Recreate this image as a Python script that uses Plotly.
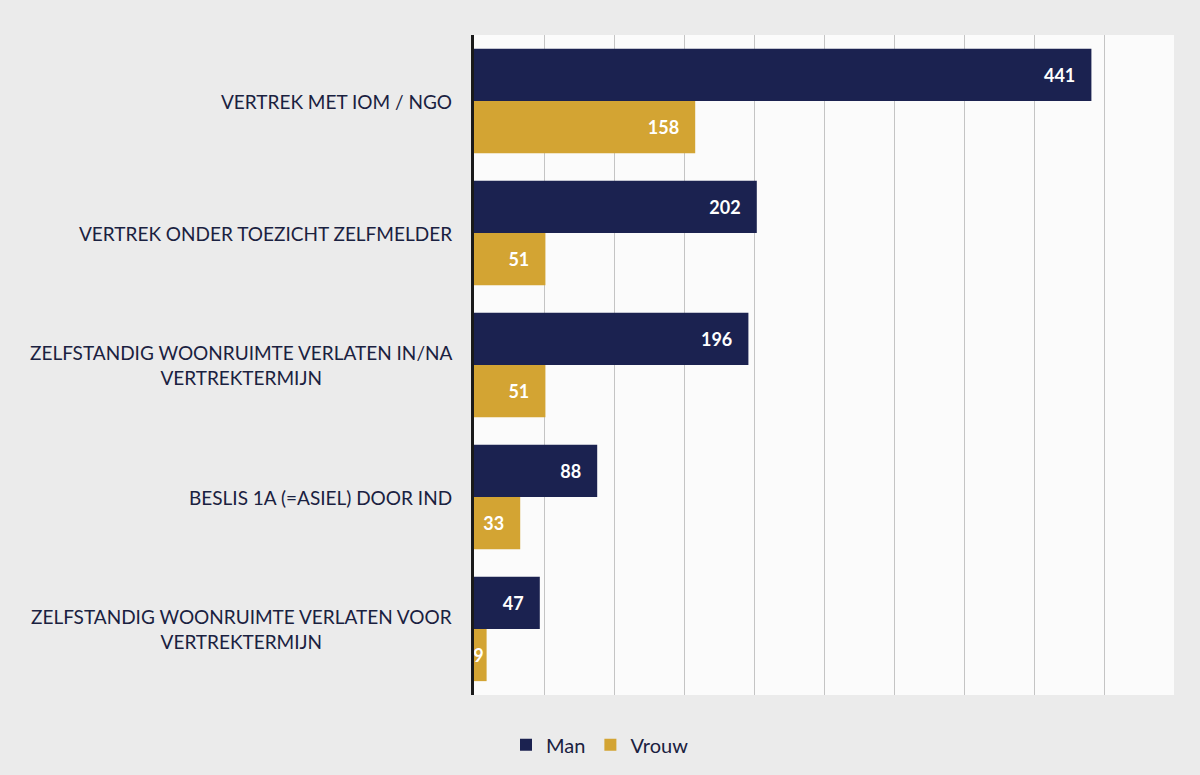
import plotly.graph_objects as go

categories = [
    "VERTREK MET IOM / NGO",
    "VERTREK ONDER TOEZICHT ZELFMELDER",
    "ZELFSTANDIG WOONRUIMTE VERLATEN IN/NA<br>VERTREKTERMIJN",
    "BESLIS 1A (=ASIEL) DOOR IND",
    "ZELFSTANDIG WOONRUIMTE VERLATEN VOOR<br>VERTREKTERMIJN",
]
man = [441, 202, 196, 88, 47]
vrouw = [158, 51, 51, 33, 9]

NAVY = "#1b2250"
GOLD = "#d3a433"
FONT = "Lato"
PAD = "\u00a0\u00a0\u00a0"

fig = go.Figure()
fig.add_trace(go.Bar(
    y=categories, x=man, name="Man", orientation="h",
    marker=dict(color=NAVY, line=dict(width=0)),
    text=[f"{v}{PAD}" for v in man], textposition="inside", insidetextanchor="end",
    constraintext="none",
    textfont=dict(color="white", size=18, family=FONT, weight="bold"),
))
fig.add_trace(go.Bar(
    y=categories, x=vrouw, name="Vrouw", orientation="h",
    marker=dict(color=GOLD, line=dict(width=0)),
    text=[f"{v}{PAD}" if v > 20 else str(v) for v in vrouw],
    textposition="inside", insidetextanchor="end",
    constraintext="none",
    textfont=dict(color="white", size=18, family=FONT, weight="bold"),
))

for c in categories:
    fig.add_annotation(
        x=0, xref="paper", y=c, yref="y", xanchor="right", xshift=-20,
        text=c, showarrow=False, align="center",
        font=dict(size=19, color="#1a2140", family=FONT),
    )

fig.update_layout(
    width=1200, height=775,
    margin=dict(l=474, r=26, t=35, b=80),
    paper_bgcolor="#ebebeb",
    plot_bgcolor="#fbfbfb",
    barmode="group", bargap=0.21, bargroupgap=0,
    font=dict(family=FONT, color="#1a2140"),
    xaxis=dict(range=[0, 500], dtick=50, showgrid=True, gridcolor="#c4c4c4",
               gridwidth=1, showticklabels=False, zeroline=False, showline=False),
    yaxis=dict(autorange="reversed", showticklabels=False, showgrid=False,
               showline=True, linecolor="#1a1a1a", linewidth=3, ticks=""),
    legend=dict(orientation="h", xref="container", yref="container",
                x=0.5, xanchor="center", y=0.039, yanchor="middle",
                font=dict(size=20, color="#1a2140", family=FONT),
                traceorder="normal", itemwidth=30, bgcolor="rgba(0,0,0,0)"),
)

fig.write_html("out.html", config={"displayModeBar": False},
               post_script="document.body.style.margin='0';")
